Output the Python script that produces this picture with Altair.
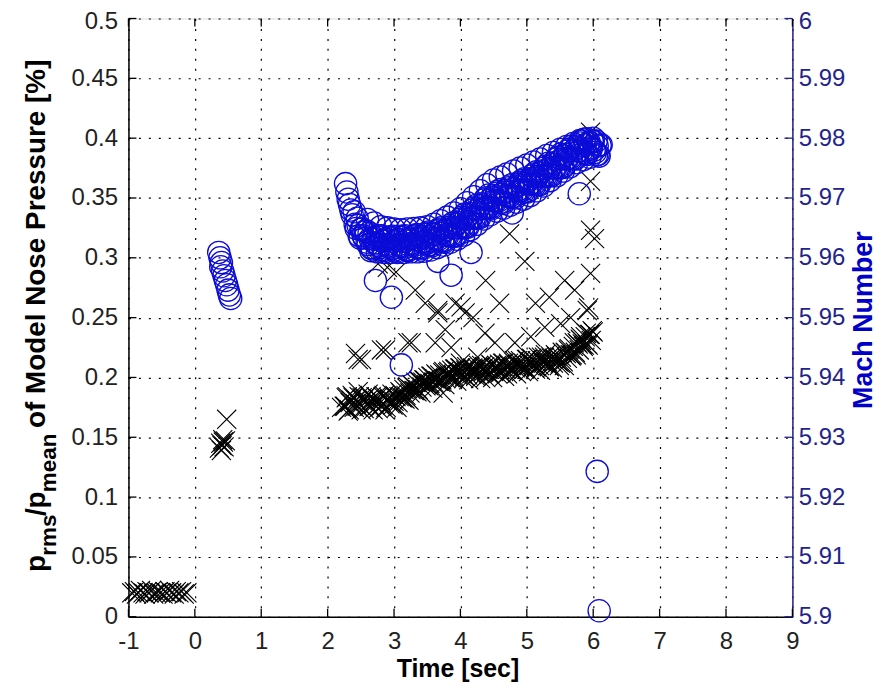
import altair as alt
import pandas as pd

# ---------------- data ----------------
# pressure ratio p_rms/p_mean [%] (left axis), black "x" markers
press_t = [
    -0.95, -0.91, -0.88, -0.85, -0.82, -0.78, -0.75, -0.72, -0.69, -0.65, -0.62, -0.58, -0.55,
    -0.52, -0.48, -0.45, -0.42, -0.38, -0.35, -0.31, -0.28, -0.24, -0.20, -0.16, -0.12,
    0.37, 0.39, 0.41, 0.40, 0.43, 0.44, 0.46, 0.42, 0.48,
    2.25, 2.28, 2.31, 2.34, 2.37, 2.40, 2.43, 2.46, 2.49, 2.52, 2.55, 2.58, 2.61, 2.64, 2.67,
    2.70, 2.73, 2.76, 2.79, 2.82, 2.85, 2.88, 2.91, 2.94, 2.97, 3.00, 3.03, 3.06, 3.09, 3.12,
    3.15, 3.18, 3.21, 3.24, 3.27, 3.30, 3.33, 3.36, 3.39, 3.42, 3.45, 3.48, 3.51, 3.54, 3.57,
    3.60, 3.63, 3.66, 3.69, 3.72, 3.75, 3.78, 3.81, 3.84, 3.87, 3.90, 3.93, 3.96, 3.99, 4.02,
    4.05, 4.08, 4.11, 4.14, 4.17, 4.20, 4.23, 4.26, 4.29, 4.32, 4.35, 4.38, 4.41, 4.44, 4.47,
    4.50, 4.53, 4.56, 4.59, 4.62, 4.65, 4.68, 4.71, 4.74, 4.77, 4.80, 4.83, 4.86, 4.89, 4.92,
    4.95, 4.98, 5.01, 5.04, 5.07, 5.10, 5.13, 5.16, 5.19, 5.22, 5.25, 5.28, 5.31, 5.34, 5.37,
    5.40, 5.43, 5.46, 5.49, 5.52, 5.55, 5.58, 5.61, 5.64, 5.67, 5.70, 5.73, 5.76, 5.79, 5.82,
    5.85, 5.88, 5.91, 5.94, 5.97, 6.00,
    2.265, 2.295, 2.325, 2.355, 2.385, 2.415, 2.445, 2.475, 2.505, 2.535, 2.565, 2.595, 2.625,
    2.655, 2.685, 2.715, 2.745, 2.775, 2.805, 2.835, 2.865, 2.895, 2.925, 2.955, 2.985, 3.015,
    3.045, 3.075, 3.105, 3.135, 3.165, 3.195, 3.225, 3.255, 3.285, 3.315, 3.345, 3.375, 3.405,
    3.435, 3.465, 3.495, 3.525, 3.555, 3.585, 3.615, 3.645, 3.675, 3.705, 3.735, 3.765, 3.795,
    3.825, 3.855, 3.885, 3.915, 3.945, 3.975, 4.005, 4.035, 4.065, 4.095, 4.125, 4.155, 4.185,
    4.215, 4.245, 4.275, 4.305, 4.335, 4.365, 4.395, 4.425, 4.455, 4.485, 4.515, 4.545, 4.575,
    4.605, 4.635, 4.665, 4.695, 4.725, 4.755, 4.785, 4.815, 4.845, 4.875, 4.905, 4.935, 4.965,
    4.995, 5.025, 5.055, 5.085, 5.115, 5.145, 5.175, 5.205, 5.235, 5.265, 5.295, 5.325, 5.355,
    5.385, 5.415, 5.445, 5.475, 5.505, 5.535, 5.565, 5.595, 5.625, 5.655, 5.685, 5.715, 5.745,
    5.775, 5.805, 5.835, 5.865, 5.895, 5.925, 5.955, 5.985,
    2.21, 2.42, 2.51, 2.76, 2.90, 3.03, 3.32, 3.47, 3.66, 3.92, 4.07, 4.19, 3.77, 3.26, 2.87,
    3.62, 3.86, 4.37, 4.52, 4.82, 5.06, 5.27, 5.51, 5.66, 5.81, 3.74, 4.00, 4.26, 4.74, 4.97,
    4.38, 4.59, 5.13, 5.34, 5.57, 5.72, 5.96, 6.02, 5.96, 5.96, 5.96, 5.91, 5.93, 2.46, 2.81,
    3.21, 3.66, 4.01,
]
press_v = [
    0.020, 0.021, 0.019, 0.020, 0.022, 0.020, 0.019, 0.021, 0.020, 0.022, 0.019, 0.020, 0.021,
    0.020, 0.019, 0.021, 0.020, 0.022, 0.020, 0.019, 0.021, 0.020, 0.021, 0.019, 0.020,
    0.141, 0.145, 0.143, 0.139, 0.146, 0.142, 0.147, 0.148, 0.165,
    0.176, 0.183, 0.172, 0.179, 0.185, 0.175, 0.181, 0.188, 0.177, 0.183, 0.174, 0.180, 0.186, 0.176, 0.182,
    0.178, 0.184, 0.174, 0.181, 0.177, 0.185, 0.175, 0.181, 0.178, 0.186, 0.180, 0.184, 0.179, 0.188, 0.183,
    0.190, 0.185, 0.192, 0.187, 0.194, 0.189, 0.196, 0.190, 0.197, 0.192, 0.198, 0.193, 0.200, 0.195, 0.201,
    0.196, 0.203, 0.197, 0.202, 0.198, 0.205, 0.199, 0.204, 0.200, 0.206, 0.201, 0.207, 0.202, 0.208, 0.203,
    0.199, 0.206, 0.202, 0.209, 0.203, 0.207, 0.201, 0.208, 0.204, 0.210, 0.205, 0.200, 0.207, 0.203, 0.210,
    0.205, 0.209, 0.203, 0.211, 0.206, 0.212, 0.207, 0.203, 0.210, 0.206, 0.213, 0.208, 0.214, 0.209, 0.205,
    0.212, 0.208, 0.215, 0.210, 0.216, 0.211, 0.207, 0.214, 0.210, 0.217, 0.212, 0.219, 0.213, 0.209, 0.216,
    0.212, 0.219, 0.214, 0.210, 0.217, 0.213, 0.221, 0.216, 0.224, 0.218, 0.226, 0.221, 0.229, 0.223, 0.231,
    0.226, 0.234, 0.228, 0.236, 0.231, 0.238,
    0.176, 0.184, 0.173, 0.181, 0.183, 0.178, 0.176, 0.184, 0.173, 0.181, 0.183, 0.178, 0.176,
    0.184, 0.173, 0.181, 0.183, 0.178, 0.176, 0.184, 0.173, 0.181, 0.183, 0.179, 0.177, 0.185,
    0.175, 0.184, 0.187, 0.183, 0.182, 0.191, 0.181, 0.190, 0.193, 0.189, 0.188, 0.197, 0.187,
    0.196, 0.198, 0.194, 0.193, 0.201, 0.191, 0.199, 0.202, 0.197, 0.196, 0.204, 0.194, 0.202,
    0.205, 0.200, 0.199, 0.207, 0.197, 0.205, 0.208, 0.203, 0.201, 0.209, 0.198, 0.206, 0.208,
    0.204, 0.202, 0.210, 0.199, 0.207, 0.209, 0.205, 0.203, 0.211, 0.200, 0.208, 0.210, 0.206,
    0.204, 0.212, 0.201, 0.210, 0.212, 0.207, 0.206, 0.214, 0.203, 0.211, 0.214, 0.209, 0.207,
    0.215, 0.205, 0.213, 0.215, 0.210, 0.209, 0.217, 0.206, 0.214, 0.217, 0.212, 0.210, 0.218,
    0.208, 0.216, 0.218, 0.213, 0.212, 0.221, 0.210, 0.220, 0.223, 0.219, 0.219, 0.229, 0.219,
    0.228, 0.232, 0.228, 0.227, 0.237, 0.227, 0.236, 0.239,
    0.175, 0.220, 0.215, 0.295, 0.292, 0.288, 0.273, 0.262, 0.254, 0.262, 0.254, 0.250, 0.240, 0.229, 0.223,
    0.229, 0.225, 0.237, 0.229, 0.229, 0.234, 0.242, 0.245, 0.250, 0.234, 0.187, 0.212, 0.217, 0.320, 0.297,
    0.281, 0.262, 0.262, 0.267, 0.281, 0.273, 0.287, 0.316, 0.364, 0.405, 0.323, 0.256, 0.258, 0.215, 0.223,
    0.229, 0.256, 0.259,
]

# Mach number (right axis), blue circles
mach_t = [
    0.36, 0.38, 0.40, 0.39, 0.42, 0.44, 0.46, 0.48, 0.50, 0.52, 0.54,
    2.27, 2.29, 2.31, 2.33, 2.35, 2.37, 2.40, 2.43, 2.46, 2.49, 2.52, 2.55, 2.58, 2.61, 2.64,
    2.67, 2.70, 2.73, 2.76, 2.79, 2.82, 2.85, 2.88, 2.91, 2.94, 2.97, 3.00, 3.03, 3.06, 3.09,
    3.12, 3.15, 3.18, 3.21, 3.24, 3.27, 3.30, 3.33, 3.36, 3.39, 3.42, 3.45, 3.48, 3.51, 3.54,
    3.57, 3.60, 3.63, 3.66, 3.69, 3.72, 3.75, 3.78, 3.81, 3.84, 3.87, 3.90, 3.93, 3.96, 3.99,
    4.02, 4.05, 4.08, 4.11, 4.14, 4.17, 4.20, 4.23, 4.26, 4.29, 4.32, 4.35, 4.38, 4.41, 4.44,
    4.47, 4.50, 4.53, 4.56, 4.59, 4.62, 4.65, 4.68, 4.71, 4.74, 4.77, 4.80, 4.83, 4.86, 4.89,
    4.92, 4.95, 4.98, 5.01, 5.04, 5.07, 5.10, 5.13, 5.16, 5.19, 5.22, 5.25, 5.28, 5.31, 5.34,
    5.37, 5.40, 5.43, 5.46, 5.49, 5.52, 5.55, 5.58, 5.61, 5.64, 5.67, 5.70, 5.73, 5.76, 5.79,
    5.82, 5.85, 5.88, 5.91, 5.94, 5.97, 6.00, 6.03, 6.06, 6.09, 6.12,
    2.415, 2.445, 2.475, 2.505, 2.535, 2.565, 2.595, 2.625, 2.655, 2.685, 2.715, 2.745, 2.775,
    2.805, 2.835, 2.865, 2.895, 2.925, 2.955, 2.985, 3.015, 3.045, 3.075, 3.105, 3.135, 3.165,
    3.195, 3.225, 3.255, 3.285, 3.315, 3.345, 3.375, 3.405, 3.435, 3.465, 3.495, 3.525, 3.555,
    3.585, 3.615, 3.645, 3.675, 3.705, 3.735, 3.765, 3.795, 3.825, 3.855, 3.885, 3.915, 3.945,
    3.975, 4.005, 4.035, 4.065, 4.095, 4.125, 4.155, 4.185, 4.215, 4.245, 4.275, 4.305, 4.335,
    4.365, 4.395, 4.425, 4.455, 4.485, 4.515, 4.545, 4.575, 4.605, 4.635, 4.665, 4.695, 4.725,
    4.755, 4.785, 4.815, 4.845, 4.875, 4.905, 4.935, 4.965, 4.995, 5.025, 5.055, 5.085, 5.115,
    5.145, 5.175, 5.205, 5.235, 5.265, 5.295, 5.325, 5.355, 5.385, 5.415, 5.445, 5.475, 5.505,
    5.535, 5.565, 5.595, 5.625, 5.655, 5.685, 5.715, 5.745, 5.775, 5.805, 5.835, 5.865, 5.895,
    5.925, 5.955, 5.985, 6.015, 6.045, 6.075, 6.105,
    # upper edge of the band
    2.60, 2.70, 2.80, 2.90, 3.00, 3.10, 3.20, 3.30, 3.40, 3.50, 3.60, 3.70, 3.80, 3.90, 4.00,
    4.10, 4.20, 4.30, 4.40, 4.50, 4.60, 4.70, 4.80, 4.90, 5.00, 5.10, 5.20, 5.30, 5.40, 5.50,
    5.60, 5.70, 5.80, 5.90, 6.00,
    # lower edge of the band
    2.65, 2.75, 2.85, 2.95, 3.05, 3.15, 3.25, 3.35, 3.45, 3.55, 3.65, 3.75, 3.85, 3.95, 4.05,
    4.15, 4.25, 4.35, 4.45, 4.55, 4.65, 4.75, 4.85, 4.95, 5.05, 5.15, 5.25, 5.35, 5.45, 5.55,
    5.65, 5.75, 5.85, 5.95, 6.05,
    # isolated circles
    2.72, 2.96, 3.11, 3.66, 3.86, 4.16, 4.78, 5.79, 6.06, 6.09,
]
mach_v = [
    5.9609, 5.9600, 5.9592, 5.9585, 5.9578, 5.9570, 5.9562, 5.9555, 5.9546, 5.9538, 5.9532,
    5.9724, 5.9710, 5.9698, 5.9689, 5.9680, 5.9672, 5.9677, 5.9649, 5.9654, 5.9633, 5.9648, 5.9633, 5.9645, 5.9622, 5.9632,
    5.9615, 5.9634, 5.9623, 5.9637, 5.9617, 5.9628, 5.9612, 5.9631, 5.9620, 5.9635, 5.9615, 5.9627, 5.9611, 5.9631, 5.9620,
    5.9636, 5.9616, 5.9628, 5.9612, 5.9633, 5.9622, 5.9637, 5.9618, 5.9630, 5.9615, 5.9635, 5.9625, 5.9641, 5.9621, 5.9635,
    5.9620, 5.9641, 5.9631, 5.9647, 5.9628, 5.9641, 5.9626, 5.9647, 5.9637, 5.9654, 5.9636, 5.9650, 5.9636, 5.9659, 5.9650,
    5.9668, 5.9650, 5.9665, 5.9651, 5.9674, 5.9666, 5.9683, 5.9666, 5.9680, 5.9667, 5.9690, 5.9682, 5.9700, 5.9683, 5.9697,
    5.9682, 5.9704, 5.9694, 5.9711, 5.9692, 5.9706, 5.9691, 5.9713, 5.9703, 5.9720, 5.9701, 5.9715, 5.9700, 5.9722, 5.9712,
    5.9729, 5.9710, 5.9724, 5.9710, 5.9732, 5.9723, 5.9740, 5.9722, 5.9736, 5.9722, 5.9745, 5.9736, 5.9753, 5.9736, 5.9750,
    5.9737, 5.9759, 5.9750, 5.9768, 5.9750, 5.9765, 5.9751, 5.9773, 5.9765, 5.9782, 5.9765, 5.9779, 5.9765, 5.9787, 5.9778,
    5.9795, 5.9776, 5.9789, 5.9773, 5.9793, 5.9782, 5.9795, 5.9776, 5.9787, 5.9770, 5.9789,
    5.9656, 5.9666, 5.9637, 5.9648, 5.9637, 5.9644, 5.9626, 5.9642, 5.9617, 5.9632, 5.9625, 5.9635, 5.9620,
    5.9637, 5.9614, 5.9629, 5.9622, 5.9633, 5.9618, 5.9636, 5.9613, 5.9629, 5.9622, 5.9634, 5.9619, 5.9637,
    5.9614, 5.9631, 5.9624, 5.9635, 5.9621, 5.9639, 5.9617, 5.9633, 5.9627, 5.9639, 5.9624, 5.9643, 5.9622,
    5.9639, 5.9633, 5.9645, 5.9631, 5.9650, 5.9628, 5.9645, 5.9639, 5.9651, 5.9638, 5.9658, 5.9637, 5.9656,
    5.9651, 5.9665, 5.9652, 5.9673, 5.9652, 5.9671, 5.9666, 5.9680, 5.9668, 5.9688, 5.9668, 5.9687, 5.9683,
    5.9697, 5.9684, 5.9705, 5.9684, 5.9701, 5.9696, 5.9708, 5.9695, 5.9714, 5.9693, 5.9710, 5.9705, 5.9717,
    5.9704, 5.9723, 5.9702, 5.9719, 5.9714, 5.9726, 5.9713, 5.9732, 5.9711, 5.9729, 5.9724, 5.9737, 5.9724,
    5.9744, 5.9723, 5.9742, 5.9737, 5.9750, 5.9738, 5.9758, 5.9738, 5.9756, 5.9751, 5.9765, 5.9752, 5.9773,
    5.9752, 5.9770, 5.9766, 5.9779, 5.9767, 5.9787, 5.9766, 5.9784, 5.9779, 5.9792, 5.9779, 5.9798, 5.9775,
    5.9791, 5.9784, 5.9795, 5.9780, 5.9795, 5.9773, 5.9788,
    5.9664, 5.9658, 5.9652, 5.9650, 5.9648, 5.9647, 5.9648, 5.9649, 5.9650, 5.9652, 5.9656, 5.9662, 5.9668, 5.9675, 5.9682,
    5.9692, 5.9702, 5.9712, 5.9722, 5.9730, 5.9735, 5.9740, 5.9745, 5.9750, 5.9755, 5.9760, 5.9765, 5.9771, 5.9776, 5.9781,
    5.9786, 5.9791, 5.9796, 5.9799, 5.9800,
    5.9612, 5.9610, 5.9609, 5.9609, 5.9609, 5.9609, 5.9610, 5.9610, 5.9611, 5.9613, 5.9617, 5.9621, 5.9626, 5.9631, 5.9638,
    5.9647, 5.9656, 5.9665, 5.9672, 5.9678, 5.9683, 5.9688, 5.9693, 5.9698, 5.9704, 5.9712, 5.9720, 5.9729, 5.9737, 5.9745,
    5.9752, 5.9759, 5.9764, 5.9768, 5.9772,
    5.9562, 5.9534, 5.9421, 5.9594, 5.9571, 5.9609, 5.9675, 5.9707, 5.9243, 5.9010,
]

x_ticks = [-1, 0, 1, 2, 3, 4, 5, 6, 7, 8, 9]
left_ticks = [0, 0.05, 0.1, 0.15, 0.2, 0.25, 0.3, 0.35, 0.4, 0.45, 0.5]
right_ticks = [5.9, 5.91, 5.92, 5.93, 5.94, 5.95, 5.96, 5.97, 5.98, 5.99, 6.0]

# ---------------- styling ----------------
W, H = 667, 601
FONT = "Liberation Sans"
NAVY = "#23238c"
BLUE = "#0c0cd8"
TITLE_BLUE = "#0000c8"
X_PATH = "M-1,-1L1,1M-1,1L1,-1"

xscale = alt.Scale(domain=[-1, 9], nice=False, zero=False)
lscale = alt.Scale(domain=[0, 0.5], nice=False, zero=False)
rscale = alt.Scale(domain=[5.9, 6.0], nice=False, zero=False)

grid_style = dict(grid=True, gridColor="black", gridDash=[2, 8], gridWidth=1.2, gridOpacity=1)

x_axis = alt.Axis(values=x_ticks, format="d", title=None, orient="bottom",
                  labelExpr="datum.value < 0 ? '-' + abs(datum.value) : datum.label",
                  ticks=False, tickSize=0, labelPadding=13, labelFont=FONT, labelFontSize=24,
                  labelColor="#222222", labelFlush=False, labelOverlap=False,
                  domainColor="black", domainWidth=1.5, **grid_style)
left_axis = alt.Axis(values=left_ticks, format="~g", title=None, orient="left",
                     ticks=False, tickSize=0, labelPadding=11, labelFont=FONT, labelFontSize=24,
                     labelColor="#222222", labelOverlap=False,
                     labelOffset={"condition": {"test": "datum.value >= 0.5", "value": 3}, "value": 0},
                     domainColor="black", domainWidth=1.5, **grid_style)
right_axis = alt.Axis(values=right_ticks, format="~g", title=None, orient="right",
                      ticks=False, tickSize=0, labelPadding=6, labelFont=FONT, labelFontSize=24,
                      labelColor=NAVY, labelOverlap=False, grid=False,
                      labelOffset={"condition": {"test": "datum.value >= 5.999", "value": 3}, "value": 0},
                      domainColor=NAVY, domainWidth=1.5)

press_df = pd.DataFrame({"t": press_t, "p": press_v})
mach_df = pd.DataFrame({"t": mach_t, "m": mach_v})

press = alt.Chart(press_df).mark_point(
    shape=X_PATH, filled=False, size=370, stroke="black", strokeWidth=1.1, opacity=1
).encode(
    x=alt.X("t:Q", scale=xscale, axis=x_axis),
    y=alt.Y("p:Q", scale=lscale, axis=left_axis),
)

mach = alt.Chart(mach_df).mark_point(
    shape="circle", filled=False, size=500, stroke=BLUE, strokeWidth=1.3, opacity=1
).encode(
    x=alt.X("t:Q", scale=xscale, axis=None),
    y=alt.Y("m:Q", scale=rscale, axis=right_axis),
)

# inward tick marks (MATLAB style)
xt_df = pd.DataFrame({"v": x_ticks})
lt_df = pd.DataFrame({"v": left_ticks})
rt_df = pd.DataFrame({"v": right_ticks})
TL = 8
tick_bottom = alt.Chart(xt_df).mark_rule(color="black", strokeWidth=1.3).encode(
    x=alt.X("v:Q", scale=xscale, axis=None), y=alt.value(H), y2=alt.value(H - TL))
tick_top = alt.Chart(xt_df).mark_rule(color="black", strokeWidth=1.3).encode(
    x=alt.X("v:Q", scale=xscale, axis=None), y=alt.value(0), y2=alt.value(TL))
tick_left = alt.Chart(lt_df).mark_rule(color="black", strokeWidth=1.3).encode(
    y=alt.Y("v:Q", scale=lscale, axis=None), x=alt.value(0), x2=alt.value(TL))
tick_right = alt.Chart(rt_df).mark_rule(color=NAVY, strokeWidth=1.3).encode(
    y=alt.Y("v:Q", scale=rscale, axis=None), x=alt.value(W - TL), x2=alt.value(W))


def label(s, x, y, size, angle=0, color="black", align="left"):
    return alt.Chart(pd.DataFrame({"s": [s]})).mark_text(
        font=FONT, fontSize=size, fontWeight="bold", angle=angle, align=align,
        baseline="alphabetic", color=color
    ).encode(text="s:N", x=alt.value(x), y=alt.value(y))


# left title: p_rms / p_mean of Model Nose Pressure [%]
MAIN_X = -84
SUB_X = -73
ytitle = [
    label("p", MAIN_X, 556, 28, 270),
    label("rms", SUB_X, 539.6, 22.5, 270),
    label("/", MAIN_X, 499.7, 28, 270),
    label("p", MAIN_X, 492.2, 28, 270),
    label("mean", SUB_X, 475.8, 22.5, 270),
    label("of Model Nose Pressure [%]", MAIN_X, 411.4, 28, 270),
]
rtitle = label("Mach Number", 747, 303, 27, 270, TITLE_BLUE, "center")
xtitle = label("Time [sec]", 331, 662, 25, 0, "black", "center")

chart = alt.layer(
    press, mach, tick_bottom, tick_top, tick_left, tick_right, *ytitle, rtitle, xtitle
).resolve_scale(
    y="independent"
).resolve_axis(
    x="independent", y="independent"
).properties(
    width=W, height=H,
    autosize=alt.AutoSizeParams(type="none"),
    padding={"left": 121, "top": 9, "right": 86, "bottom": 65},
).configure_view(
    stroke="black", strokeWidth=1.5
).configure(background="white")

chart.save("out.html", embed_options={"renderer": "svg", "actions": False})
